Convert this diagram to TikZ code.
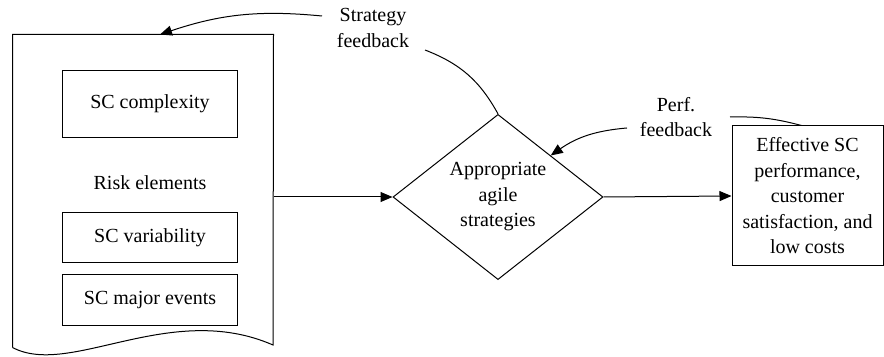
\documentclass[tikz,border=0pt]{standalone}
\usepackage{fontspec}
\setmainfont{Liberation Serif}
\usetikzlibrary{shapes.geometric,arrows.meta}

\begin{document}
\begin{tikzpicture}[x=0.5pt, y=-0.5pt, line width=0.5pt, font=\fontsize{10}{12.75}\selectfont,
	>={Triangle[length=6pt, width=5pt]},
	block/.style={rectangle, draw=black, minimum width=87.5pt, align=center},
	decision/.style={diamond, draw=black, inner sep=0pt, minimum width=105pt, minimum height=69pt, align=center},
	tag/.style={align=center, inner sep=0pt}]
	\useasboundingbox (0, 0) rectangle (884, 357);

	% document with the risk elements
	\node[minimum width=130pt, minimum height=156pt, inner sep=0pt] (doc) at (143, 191) {};
	\draw (doc.south west) -- (doc.north west) -- (doc.north east) -- (273, 345) .. controls (170, 300) and (70, 378) .. (doc.south west);

	\node[block, minimum height=33.5pt] (sc-complexity) at (150, 104) {SC complexity};
	\node (risk-elements) at (150, 183) {Risk elements};
	\node[block, minimum height=25pt] (sc-variability) at (150, 238) {SC variability};
	\node[block, minimum height=25.5pt] (sc-events) at (150, 300) {SC major events};

	\node[decision] (agile) at (498, 197) {Appropriate\\agile\\strategies};
	\node[block, minimum width=75.5pt, minimum height=70pt] (effect) at (807.5, 196) {Effective SC\\performance,\\customer\\satisfaction, and\\low costs};

	\node[tag] (strategy-fb) at (373, 28) {Strategy\\feedback};
	\node[tag] (perf-fb) at (676, 117) {Perf.\\feedback};

	\draw[->] (doc.east |- agile.west) -- (agile.west);
	\draw[->] (agile.east) -- (effect.west);

	% feedback loops
	\coordinate (sfb-end) at (425, 50);
	\coordinate (sfb-start) at (322, 16);
	\draw (agile.north) to[bend right=20] (sfb-end);
	\draw[->] (sfb-start) to[bend right=12] ([xshift=8.5pt]doc.north);

	\coordinate (pfb-start) at (627, 128);
	\coordinate (pfb-end) at (730, 117);
	\draw[->] (pfb-start) to[bend right=15] (agile.north east);
	\draw ([xshift=-3pt]effect.north) to[bend right=8] (pfb-end);
\end{tikzpicture}
\end{document}
